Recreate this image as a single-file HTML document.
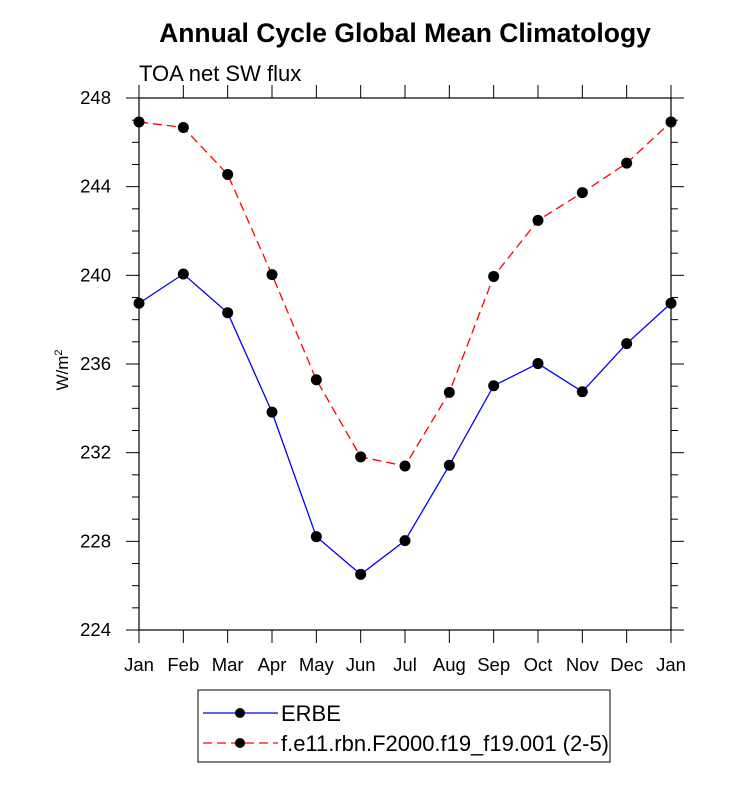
<!DOCTYPE html>
<html><head><meta charset="utf-8"><style>
body{margin:0;background:#fff;width:733px;height:784px;overflow:hidden}
svg{font-family:"Liberation Sans",sans-serif}
</style></head><body>
<svg id="chart" width="733" height="784">
<text x="405" y="42" text-anchor="middle" font-size="26.5" font-weight="bold">Annual Cycle Global Mean Climatology</text>
<text x="139" y="81" font-size="22">TOA net SW flux</text>
<text transform="translate(68,370) rotate(-90)" text-anchor="middle" font-size="17">W/m<tspan dy="-6" font-size="11">2</tspan></text>
<g id="axes"></g><g id="series"></g>
<g>
<rect x="198" y="690" width="412" height="72" fill="none" stroke="#000" stroke-width="1"/>
<line x1="203" y1="713" x2="278" y2="713" stroke="#00f" stroke-width="1.2"/>
<circle cx="240" cy="713" r="5" fill="#000"/>
<text x="281" y="721" font-size="22">ERBE</text>
<line x1="203" y1="743" x2="278" y2="743" stroke="#f00" stroke-width="1.2" stroke-dasharray="9,5"/>
<circle cx="240" cy="743" r="5" fill="#000"/>
<text x="281" y="751" font-size="22" textLength="328">f.e11.rbn.F2000.f19_f19.001 (2-5)</text>
</g>
</svg>
<script>
const months=["Jan","Feb","Mar","Apr","May","Jun","Jul","Aug","Sep","Oct","Nov","Dec","Jan"];
const erbe=[238.74,240.06,238.31,233.83,228.21,226.51,228.03,231.43,235.02,236.02,234.75,236.92,238.74];
const model=[246.92,246.67,244.55,240.03,235.29,231.81,231.40,234.72,239.95,242.48,243.73,245.06,246.92];
const yTicks=[224,228,232,236,240,244,248];
const yMin=224,yMax=248;
const L=139,R=671,T=98,B=630;
const NS="http://www.w3.org/2000/svg";
const X=i=>L+(R-L)*i/(months.length-1);
const Y=v=>B-(B-T)*(v-yMin)/(yMax-yMin);
function mk(p,tag,a){const e=document.createElementNS(NS,tag);for(const k in a)e.setAttribute(k,a[k]);p.appendChild(e);return e;}
const ax=document.getElementById('axes');
const frame=mk(ax,'rect',{x:L,y:T,width:R-L,height:B-T,fill:'none',stroke:'#000','stroke-width':1.2});


for(let v=yMin;v<=yMax;v++){const maj=(v-yMin)%4===0;const len=maj?13:7;const y=Y(v);
mk(ax,'line',{x1:L-len,y1:y,x2:L,y2:y,stroke:'#000'});mk(ax,'line',{x1:R,y1:y,x2:R+len,y2:y,stroke:'#000'});}
yTicks.forEach(v=>{const t=mk(ax,'text',{x:L-28,y:Y(v)+6,'text-anchor':'end','font-size':18.5});t.textContent=v;

});
months.forEach((m,i)=>{const x=X(i);mk(ax,'line',{x1:x,y1:B,x2:x,y2:B+13,stroke:'#000'});mk(ax,'line',{x1:x,y1:T-13,x2:x,y2:T,stroke:'#000'});
const t=mk(ax,'text',{x:x,y:B+41,'text-anchor':'middle','font-size':18.5});t.textContent=m;

});
const sg=document.getElementById('series');
function series(vals,color,dash,name){
const pl=mk(sg,'polyline',{points:vals.map((v,i)=>X(i)+','+Y(v)).join(' '),fill:'none',stroke:color,'stroke-width':1.3,'stroke-dasharray':dash});


vals.forEach((v,i)=>{const c=mk(sg,'circle',{cx:X(i),cy:Y(v),r:5.5,fill:'#000'});

});}
series(model,'#f00','9,5','model');
series(erbe,'#00f','none','erbe');
</script>
</body></html>
